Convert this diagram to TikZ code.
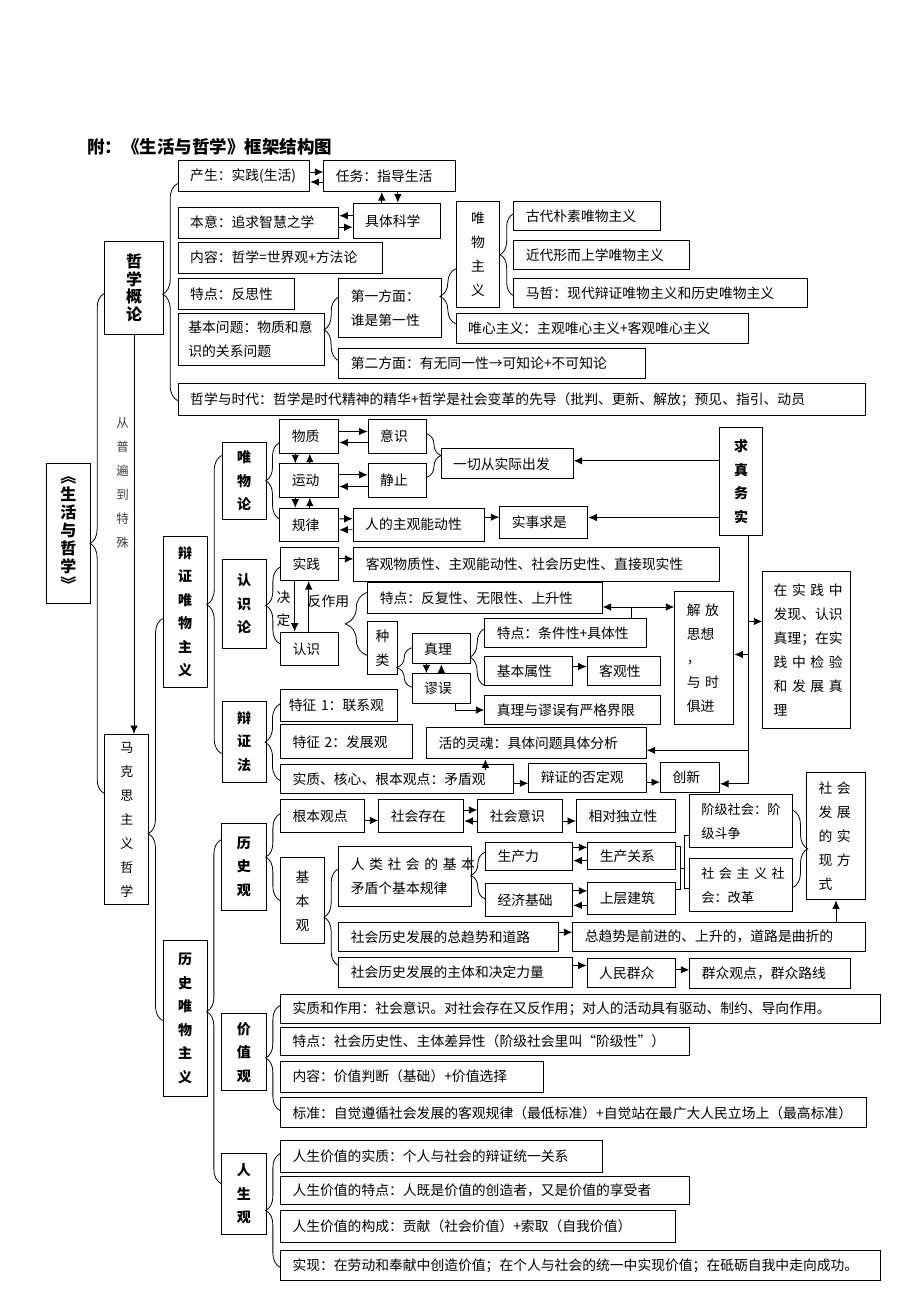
\documentclass[tikz,border=0pt]{standalone}
\usepackage{fontspec}
\setmainfont{Noto Sans CJK SC}
\usetikzlibrary{arrows.meta,decorations.pathreplacing,calc}
\newcommand{\tbox}[7][]% style, name, x1, y1, x2, y2, text
{\pgfmathsetmacro{\bw}{#5-#3}\pgfmathsetmacro{\bh}{#6-#4}\pgfmathsetmacro{\tw}{#5-#3-24}%
 \node[bx, text width=\tw pt, minimum width=\bw pt, minimum height=\bh pt, #1] (#2) at (#3,#4) {#7};
}
\newcommand{\cbox}[7][]% style, name, x1, y1, x2, y2, text
{\pgfmathsetmacro{\bw}{#5-#3}\pgfmathsetmacro{\bh}{#6-#4}%
 \node[bx, align=center, minimum width=\bw pt, minimum height=\bh pt, #1] (#2) at (#3,#4) {#7};
}
\newcommand{\jl}[1]{\makebox[\linewidth][s]{#1}}

\begin{document}
\begin{tikzpicture}[x=1pt, y=-1pt,
  bx/.style={draw, line width=1pt, anchor=north west, inner xsep=0pt, inner ysep=0pt,
    align=left, font=\fontsize{13.8}{24}\selectfont},
  bf/.style={font=\bfseries\fontsize{14}{23.5}\selectfont},
  ar/.style={-{Latex[length=8.5pt,width=7.5pt]}, line width=0.9pt},
  ar2/.style={{Latex[length=8.5pt,width=7.5pt]}-{Latex[length=8.5pt,width=7.5pt]}, line width=0.9pt},
  brc/.style={decorate, decoration={brace, amplitude=#1}, line width=0.8pt},
  brc/.default=14.3pt]
  \useasboundingbox (0,0) rectangle (920,1302);

  \node[font=\bfseries\fontsize{17.5}{20}\selectfont, anchor=west, inner sep=0pt] (title) at (87,147) {附：《生活与哲学》框架结构图};

  % 哲学概论
  \tbox{chansheng}{177.7}{160}{309.3}{191}{产生：实践(生活)}
  \tbox{renwu}{323.3}{160}{455.3}{191}{任务：指导生活}
  \tbox{benyi}{177.7}{206.7}{338.3}{237.7}{本意：追求智慧之学}
  \tbox{kexue}{352.7}{202.7}{440}{237.7}{具体科学}
  \tbox{neirong}{177.7}{241.7}{381.7}{272.7}{内容：哲学=世界观+方法论}
  \tbox{fansi}{177.7}{277.7}{294.3}{309.3}{特点：反思性}
  \tbox[text width=126pt]{wenti}{177.7}{312.7}{324}{365}{基本问题：物质和意\\识的关系问题}
  \tbox{fangmian1}{338.3}{277.7}{441}{337.3}{第一方面：\\谁是第一性}
  \tbox{fangmian2}{338.3}{348.3}{645}{377.7}{第二方面：有无同一性→可知论+不可知论}
  \tbox{shidai}{177.7}{383.3}{865}{415}{哲学与时代：哲学是时代精神的精华+哲学是社会变革的先导（批判、更新、解放；预见、指引、动员}
  \cbox{wuzhu}{455.7}{201}{499.3}{307.3}{唯\\物\\主\\义}
  \tbox{gudai}{513.3}{201}{660}{230}{古代朴素唯物主义}
  \tbox{jindai}{513.3}{240}{689.3}{269}{近代形而上学唯物主义}
  \tbox{mazhe}{513.3}{278.3}{806.7}{307.3}{马哲：现代辩证唯物主义和历史唯物主义}
  \tbox{weixin}{455.7}{313.3}{747.7}{342.7}{唯心主义：主观唯心主义+客观唯心主义}
  \cbox[font=\bfseries\fontsize{16}{17.5}\selectfont]{zxgl}{104.3}{241}{162.7}{334.3}{哲\\学\\概\\论}
  \cbox[font=\bfseries\fontsize{16}{18}\selectfont]{shzx}{45.7}{462.7}{90}{603.3}{︽\\生\\活\\与\\哲\\学\\︾}
  \node[font=\fontsize{12.5}{24}\selectfont, text=black!75, align=center] (cong) at (122.7,483) {从\\普\\遍\\到\\特\\殊};
  \cbox[font=\fontsize{13}{24}\selectfont]{mkszy}{104.3}{734}{148.3}{904}{马\\克\\思\\主\\义\\哲\\学}

  % 辩证唯物主义
  \cbox[bf]{bianwei}{162.7}{536}{206.7}{686.7}{辩\\证\\唯\\物\\主\\义}
  \cbox[bf]{weiwulun}{221.7}{441.7}{265.7}{519.3}{唯\\物\\论}
  \cbox[bf]{renshilun}{221.7}{559}{265.7}{647.7}{认\\识\\论}
  \cbox[bf]{bianzhengfa}{221.7}{700.7}{265.7}{781.7}{辩\\证\\法}
  \tbox{wuzhi}{279.3}{419.3}{338.3}{452.7}{物质}
  \tbox{yishi}{367.7}{419.3}{426}{452.7}{意识}
  \tbox{yundong}{279.3}{463.3}{338.3}{496.7}{运动}
  \tbox{jingzhi}{367.7}{463.3}{426}{496.7}{静止}
  \tbox{guilv}{279.3}{507.7}{338.3}{541}{规律}
  \tbox{nengdong}{352.7}{507.7}{484.3}{540.7}{人的主观能动性}
  \tbox{shishi}{499.3}{505.7}{587.3}{538.3}{实事求是}
  \tbox{yiqie}{440.7}{448.3}{572.7}{478.3}{一切从实际出发}
  \cbox[bf]{qiuzhen}{719}{426.7}{762.3}{535.3}{求\\真\\务\\实}
  \tbox{shijian}{280}{547.3}{338.3}{580}{实践}
  \tbox{texing}{353.3}{547.3}{719}{580.7}{客观物质性、主观能动性、社会历史性、直接现实性}
  \tbox{renshi}{280}{631.7}{338.3}{665}{认识}
  \node[font=\fontsize{13.8}{23}\selectfont, align=center] (jueding) at (283.5,608.7) {决\\定};
  \node[font=\fontsize{13.8}{24}\selectfont, anchor=west, inner sep=0pt] (fanzuoyong) at (307.5,601.7) {反作用};
  \tbox{fanfu}{367.3}{582.3}{601.7}{612.7}{特点：反复性、无限性、上升性}
  \cbox{zhonglei}{367.3}{621}{396.7}{674}{种\\类}
  \tbox{zhenli}{411.7}{633.3}{470}{663.3}{真理}
  \tbox{miuwu}{411.7}{673.3}{470}{703.3}{谬误}
  \tbox{tiaojian}{484.3}{618.3}{645.7}{647.3}{特点：条件性+具体性}
  \tbox{shuxing}{484.3}{656}{572.3}{685}{基本属性}
  \tbox{keguan}{586.7}{656}{660}{685}{客观性}
  \tbox{jiexian}{484.3}{695}{660}{724}{真理与谬误有严格界限}
  \tbox{jiefang}{674.3}{591}{733.3}{724}{\jl{解 放}\\思想\\，\\\jl{与 时}\\俱进}
  \tbox[text width=66pt]{zaishijian}{762.3}{571}{850}{728.3}{\jl{在 实 践 中}\\\jl{发现、认识}\\\jl{真理；在实}\\\jl{践 中 检 验}\\\jl{和 发 展 真}\\理}
  \tbox[text width=100pt]{lianxi}{280}{689}{396.7}{720.7}{特征 1：联系观}
  \tbox{fazhan}{280}{724.3}{411.7}{758.3}{特征 2：发展观}
  \tbox{linghun}{426}{727.3}{645.7}{758.3}{活的灵魂：具体问题具体分析}
  \tbox{maodun}{280}{764.3}{513.3}{793.3}{实质、核心、根本观点：矛盾观}
  \tbox{fouding}{528.3}{762.7}{645.7}{791.7}{辩证的否定观}
  \tbox{chuangxin}{660}{761.7}{719}{791.7}{创新}

  % 历史唯物主义
  \cbox[bf]{lishiwei}{162.7}{940}{206.7}{1096}{历\\史\\唯\\物\\主\\义}
  \cbox[bf]{lishiguan}{221}{822.7}{265.7}{910}{历\\史\\观}
  \tbox{genben}{280}{799.3}{364.3}{831.7}{根本观点}
  \tbox{cunzai}{378.3}{799.3}{463.3}{831.7}{社会存在}
  \tbox{shyishi}{477.3}{799.3}{561.7}{831.7}{社会意识}
  \tbox{duli}{576}{799.3}{675}{831.7}{相对独立性}
  \cbox{jiben}{280}{857.3}{324}{943.3}{基\\本\\观}
  \tbox{jbmd}{338.3}{845.7}{470.7}{906}{\jl{人 类 社 会 的 基 本}\\矛盾个基本规律}
  \tbox{shengchanli}{485}{841.7}{572.3}{870}{生产力}
  \tbox{jingji}{485}{882.7}{572.3}{916}{经济基础}
  \tbox{guanxi}{587.3}{841.7}{675}{869.3}{生产关系}
  \tbox{jianzhu}{587.3}{881.7}{675}{914.3}{上层建筑}
  \tbox[text width=80pt, font=\fontsize{13.2}{24}\selectfont]{jieji}{689.3}{794.3}{792.3}{846.7}{阶级社会：阶\\级斗争}
  \tbox[text width=80pt, font=\fontsize{13.2}{24}\selectfont]{shzy}{689.3}{858.3}{792.3}{911}{\jl{社 会 主 义 社}\\会：改革}
  \tbox{shixian}{806}{771.7}{865}{899.3}{\jl{社 会}\\\jl{发 展}\\\jl{的 实}\\\jl{现 方}\\式}
  \tbox{qushi}{338.3}{921.7}{557.7}{951}{社会历史发展的总趋势和道路}
  \tbox{qushi2}{572.3}{921.7}{865}{951}{总趋势是前进的、上升的，道路是曲折的}
  \tbox{zhuti}{338.3}{956.7}{571.7}{986.7}{社会历史发展的主体和决定力量}
  \tbox{qunzhong}{586.7}{958.3}{675}{986.7}{人民群众}
  \tbox{luxian}{689.3}{958.3}{850}{987.7}{群众观点，群众路线}
  \cbox[bf]{jiazhiguan}{221}{1013.3}{265.6}{1090}{价\\值\\观}
  \tbox{shizhi}{280}{994}{880}{1023}{实质和作用：社会意识。对社会存在又反作用；对人的活动具有驱动、制约、导向作用。}
  \tbox{tedian3}{280}{1027}{689.4}{1055}{特点：社会历史性、主体差异性（阶级社会里叫“阶级性”）}
  \tbox{neirong2}{280}{1060.7}{543}{1091.7}{内容：价值判断（基础）+价值选择}
  \tbox{biaozhun}{280}{1097.3}{866}{1127.3}{标准：自觉遵循社会发展的客观规律（最低标准）+自觉站在最广大人民立场上（最高标准）}
  \cbox[bf]{renshengguan}{221}{1153.3}{265.6}{1234}{人\\生\\观}
  \tbox{rs1}{280}{1140}{601.6}{1172.3}{人生价值的实质：个人与社会的辩证统一关系}
  \tbox{rs2}{280}{1175.7}{689.4}{1204}{人生价值的特点：人既是价值的创造者，又是价值的享受者}
  \tbox{rs3}{280}{1210}{674.8}{1242.3}{人生价值的构成：贡献（社会价值）+索取（自我价值）}
  \tbox{rs4}{280}{1250}{880}{1280}{实现：在劳动和奉献中创造价值；在个人与社会的统一中实现价值；在砥砺自我中走向成功。}

  % braces
  \draw[brc=15pt, decoration={aspect=0.49}] ([yshift=-1pt]shidai.west) -- ([yshift=-7.5pt]chansheng.west);
  \draw[brc] ([yshift=26pt]mkszy.west) -- ([yshift=-5.3pt]zxgl.west);
  \draw[brc, decoration={aspect=0.485}] ([yshift=3pt]fangmian2.west) -- ([yshift=10.8pt]fangmian1.west);
  \draw[brc=15.7pt] ([yshift=4.7pt]weixin.west) -- ([yshift=-14.2pt]wuzhu.west);
  \draw[brc=13.3pt] ([yshift=-2.2pt]mazhe.west) -- ([yshift=2.2pt]gudai.west);
  \draw[brc=15pt] ([yshift=-12pt]bianzhengfa.west) -- ([yshift=25.5pt]weiwulun.west);
  \draw[brc=13.6pt] ([yshift=6pt]guilv.west) -- ([yshift=-6.3pt]wuzhi.west);
  \draw[brc=14pt] ([yshift=2.7pt]yishi.east) -- ([yshift=3.3pt]jingzhi.east);
  \draw[brc] ([yshift=5pt]renshi.west) -- ([yshift=-3pt]shijian.west);
  \draw[brc=22pt] ([yshift=-7.5pt]zhonglei.west) -- ([yshift=5.8pt]fanfu.west);
  \draw[brc=15pt] ([yshift=1.6pt]miuwu.west) -- ([yshift=1pt]zhenli.west);
  \draw[brc] ([yshift=-14.5pt]shuxing.west) -- ([yshift=4.5pt]tiaojian.west);
  \draw[brc=15pt] ([yshift=-1.2pt]maodun.west) -- ([yshift=1.5pt]lianxi.west);
  \draw[brc=14.4pt, decoration={aspect=0.465}] ([yshift=-2pt]lishiwei.west) -- ([yshift=-6.7pt]bianwei.west);
  \draw[brc] ([yshift=10.7pt]renshengguan.west) -- ([yshift=27pt]lishiguan.west);
  \draw[brc] ([yshift=0.3pt]jiben.west) -- ([yshift=2.2pt]genben.west);
  \draw[brc] ([yshift=6.7pt]zhuti.west) -- ([yshift=7.5pt]jbmd.west);
  \draw[brc] ([yshift=1pt]jingji.west) -- ([yshift=4.2pt]shengchanli.west);
  \draw[brc=14.4pt] ([yshift=10.5pt]jieji.east) -- ([yshift=-2pt]shzy.east);
  \draw[brc] ([yshift=2.3pt]biaozhun.west) -- ([yshift=3.5pt]shizhi.west);
  \draw[brc] ([yshift=-1.7pt]rs4.west) -- ([yshift=3pt]rs1.west);

  % arrows
  \draw[ar] (zxgl.south) -- (zxgl.south |- mkszy.north);
  \draw[ar] ([yshift=4pt]chansheng.east) -- ([yshift=4pt]renwu.west);
  \draw[ar] ([yshift=-6pt]renwu.west) -- ([yshift=-6pt]chansheng.east);
  \draw[ar] ([xshift=-15pt]kexue.north) -- ([xshift=-15pt]kexue.north |- renwu.south);
  \draw[ar] ([xshift=1pt]kexue.north |- renwu.south) -- ([xshift=1pt]kexue.north);
  \draw[ar] ([yshift=5pt]kexue.west) -- ([yshift=5pt]kexue.west -| benyi.east);
  \draw[ar] ([yshift=-6.5pt]kexue.west -| benyi.east) -- ([yshift=-6.5pt]kexue.west);

  \draw[ar] ([yshift=5pt]wuzhi.east) -- ([yshift=5pt]yishi.west);
  \draw[ar] ([yshift=-6pt]yishi.west) -- ([yshift=-6pt]wuzhi.east);
  \draw[ar] ([yshift=5.7pt]yundong.east) -- ([yshift=5.7pt]jingzhi.west);
  \draw[ar] ([yshift=-6pt]jingzhi.west) -- ([yshift=-6pt]yundong.east);
  \draw[ar] ([xshift=-14pt]wuzhi.south) -- ([xshift=-14pt]yundong.north);
  \draw[ar] ([xshift=0.5pt]yundong.north) -- ([xshift=0.5pt]wuzhi.south);
  \draw[ar] ([xshift=-14pt]yundong.south) -- ([xshift=-14pt]guilv.north);
  \draw[ar] ([xshift=0.5pt]guilv.north) -- ([xshift=0.5pt]yundong.south);
  \draw[ar] ([yshift=6pt]guilv.east) -- ([yshift=6pt]nengdong.west);
  \draw[ar] ([yshift=-5pt]nengdong.west) -- ([yshift=-5pt]guilv.east);
  \draw[ar] ([yshift=7.5pt]nengdong.east) -- ([yshift=7.5pt]nengdong.east -| shishi.west);
  \draw[ar] ([yshift=3pt]yiqie.east -| qiuzhen.west) -- ([yshift=3pt]yiqie.east);
  \draw[ar] ([yshift=5pt]shishi.east -| qiuzhen.west) -- ([yshift=5pt]shishi.east);

  \coordinate (sp) at ([xshift=7.5pt]qiuzhen.south);
  \draw[ar] (sp) |- ([yshift=-6.6pt]chuangxin.east);
  \draw[ar] ([yshift=28.7pt]zaishijian.west -| sp) -- ([yshift=28.7pt]zaishijian.west);
  \draw[ar] ([yshift=3.5pt]jiefang.east -| sp) -- ([yshift=3.5pt]jiefang.east);
  \draw[ar] ([yshift=-7pt]linghun.east -| sp) -- ([yshift=-7pt]linghun.east);

  \draw[ar] ([yshift=5.3pt]shijian.east) -- ([yshift=5.3pt]shijian.east -| texing.west);
  \draw[ar] ([xshift=-15pt]shijian.south) -- ([xshift=-15pt]renshi.north);
  \draw[ar] ([xshift=-1pt]renshi.north) -- ([xshift=-1pt]shijian.south);
  \draw[ar] ([xshift=-15pt]zhenli.south) -- ([xshift=-15pt]miuwu.north);
  \draw[ar] ([xshift=0pt]miuwu.north) -- ([xshift=0pt]zhenli.south);
  \draw[ar] ([yshift=4.5pt]shuxing.east) -- ([yshift=4.5pt]shuxing.east -| keguan.west);
  \draw[ar] ([xshift=14pt]miuwu.south) |- (jiexian.west);
  \coordinate (fj) at ([yshift=-9pt]fanfu.east);
  \draw[ar2] (fj) -- (fj -| jiefang.west);
  \draw[line width=0.9pt] ([xshift=66pt]tiaojian.north) -- ([xshift=66pt]tiaojian.north |- fj);
  \draw[ar] ([xshift=88.3pt, yshift=-6pt]maodun.north) -- ([xshift=88.3pt]maodun.north |- linghun.south);
  \draw[ar] ([yshift=-4pt]maodun.east) -- ([yshift=-4pt]maodun.east -| fouding.west);
  \draw[ar] ([yshift=-4.5pt]fouding.east) -- ([yshift=-4.5pt]fouding.east -| chuangxin.west);

  \draw[ar] ([yshift=-4.5pt]genben.east) -- ([yshift=-4.5pt]cunzai.west);
  \draw[ar] ([yshift=6pt]cunzai.east) -- ([yshift=6pt]shyishi.west);
  \draw[ar] ([yshift=-5pt]shyishi.west) -- ([yshift=-5pt]cunzai.east);
  \draw[ar] ([yshift=-5pt]shyishi.east) -- ([yshift=-5pt]duli.west);
  \draw[ar] ([yshift=9pt]shengchanli.east) -- ([yshift=9pt]shengchanli.east -| guanxi.west);
  \draw[ar] ([yshift=-4.3pt]shengchanli.east -| guanxi.west) -- ([yshift=-4.3pt]shengchanli.east);
  \draw[ar] ([yshift=9pt]jingji.east) -- ([yshift=9pt]jingji.east -| jianzhu.west);
  \draw[ar] ([yshift=-5.5pt]jingji.east -| jianzhu.west) -- ([yshift=-5.5pt]jingji.east);
  \coordinate (g1) at ([yshift=9.5pt]guanxi.east);
  \coordinate (g2) at ([yshift=9pt]jianzhu.east);
  \coordinate (j1) at ([yshift=-14.5pt]jieji.west);
  \coordinate (j2) at ([yshift=-3.6pt]shzy.west);
  \draw[line width=0.8pt] (g1) -- ++(4.5,0) |- (g2);
  \draw[line width=0.8pt] (j1) -- ++(-5.3,0) |- (j2);
  \draw[line width=0.8pt] ($(g1)!0.5!(g2)+(4.5,0)$) -- ++(4.8,0);
  \draw[ar] ([yshift=4.6pt]qushi.east) -- ([yshift=4.6pt]qushi.east -| qushi2.west);
  \draw[ar] (qushi2.north -| shixian.south) -- (shixian.south);
  \draw[ar] ([yshift=6.7pt]zhuti.east) -- ([yshift=6.7pt]zhuti.east -| qunzhong.west);
  \draw[ar] ([yshift=3.2pt]qunzhong.east) -- ([yshift=3.2pt]qunzhong.east -| luxian.west);
\end{tikzpicture}
\end{document}
